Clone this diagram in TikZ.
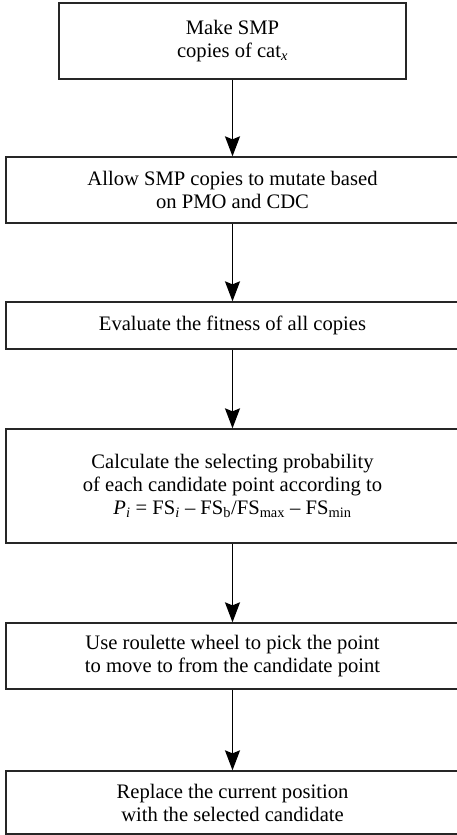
\documentclass[tikz,border=0pt]{standalone}
\usepackage{fontspec}
\setmainfont{Liberation Serif}
\usetikzlibrary{arrows.meta}
\begin{document}
\begin{tikzpicture}[x=1pt,y=-1pt,
  box/.style={draw=black!85, line width=1.3pt, rectangle, inner sep=0pt, align=center,
    font=\fontsize{20.6}{23}\selectfont},
  flow/.style={draw=black, line width=1.6pt, -{Stealth[length=20pt,width=15pt,inset=3pt]}}]
\useasboundingbox (0,0) rectangle (456,835);
\node[box, minimum width=347pt, minimum height=76pt] (b1) at (232.5,41) {Make SMP\\copies of cat\textsubscript{\textit{x}}};
\node[box, minimum width=453pt, minimum height=66pt] (b2) at (232.5,190) {Allow SMP copies to mutate based\\on PMO and CDC};
\node[box, minimum width=453pt, minimum height=47pt] (b3) at (232.5,325.5) {Evaluate the fitness of all copies};
\node[box, minimum width=453pt, minimum height=114pt] (b4) at (232.5,486) {Calculate the selecting probability\\of each candidate point according to\\\textit{P}\textsubscript{\textit{i}} = FS\textsubscript{\textit{i}} – FS\textsubscript{b}/FS\textsubscript{max} – FS\textsubscript{min}};
\node[box, minimum width=453pt, minimum height=66pt] (b5) at (232.5,656) {Use roulette wheel to pick the point\\to move to from the candidate point};
\node[box, minimum width=453pt, minimum height=63pt] (b6) at (232.5,802.5) {Replace the current position\\with the selected candidate};
\draw[flow] (b1.south) -- (b2.north);
\draw[flow] (b2.south) -- (b3.north);
\draw[flow] (b3.south) -- (b4.north);
\draw[flow] (b4.south) -- (b5.north);
\draw[flow] (b5.south) -- (b6.north);
\end{tikzpicture}
\end{document}
